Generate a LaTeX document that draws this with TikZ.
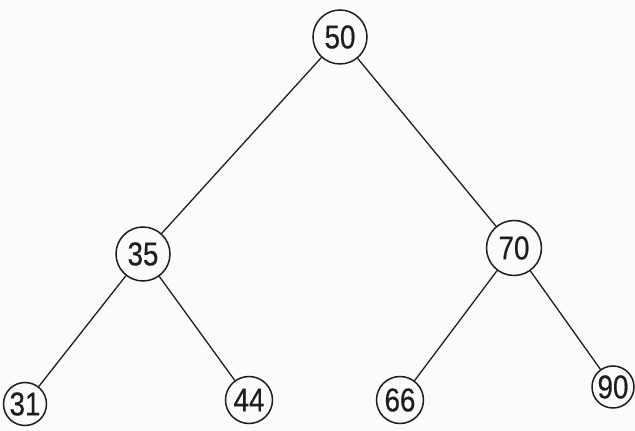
\documentclass[tikz,border=0pt]{standalone}
\usepackage{fontspec}
\setmainfont{Liberation Sans}
\newfontfamily\digitfont[FakeBold=0.5]{Liberation Sans}
\definecolor{paper}{HTML}{FCFAFC}
\definecolor{ink}{HTML}{1E1E1E}
\newcommand{\lbl}[1]{\scalebox{0.84}[1]{#1}}
\begin{document}
\begin{tikzpicture}[x=1pt,y=1pt,
  vert/.style={circle,draw=ink,line width=1.5pt,inner sep=0pt,fill=paper,
    font=\digitfont\fontsize{33}{33}\selectfont,text=ink},
  edge/.style={draw=ink,line width=1.3pt}]
\fill[paper] (0,0) rectangle (635,431);
\useasboundingbox (0,0) rectangle (635,431);
\node[vert,minimum size=54pt] (n50) at (340,394) {\lbl{50}};
\node[vert,minimum size=54pt] (n35) at (143,177) {\lbl{35}};
\node[vert,minimum size=55pt] (n70) at (514,183) {\lbl{70}};
\node[vert,minimum size=43pt] (n31) at (25,27) {\lbl{31}};
\node[vert,minimum size=47pt] (n44) at (249,31) {\lbl{44}};
\node[vert,minimum size=47pt] (n66) at (400,31) {\lbl{66}};
\node[vert,minimum size=42pt] (n90) at (613,44) {\lbl{90}};
\draw[edge] (n50) -- (n35);
\draw[edge] (n50) -- (n70);
\draw[edge] (n35) -- (n31);
\draw[edge] (n35) -- (n44);
\draw[edge] (n70) -- (n66);
\draw[edge] (n70) -- (n90);
\end{tikzpicture}
\end{document}
